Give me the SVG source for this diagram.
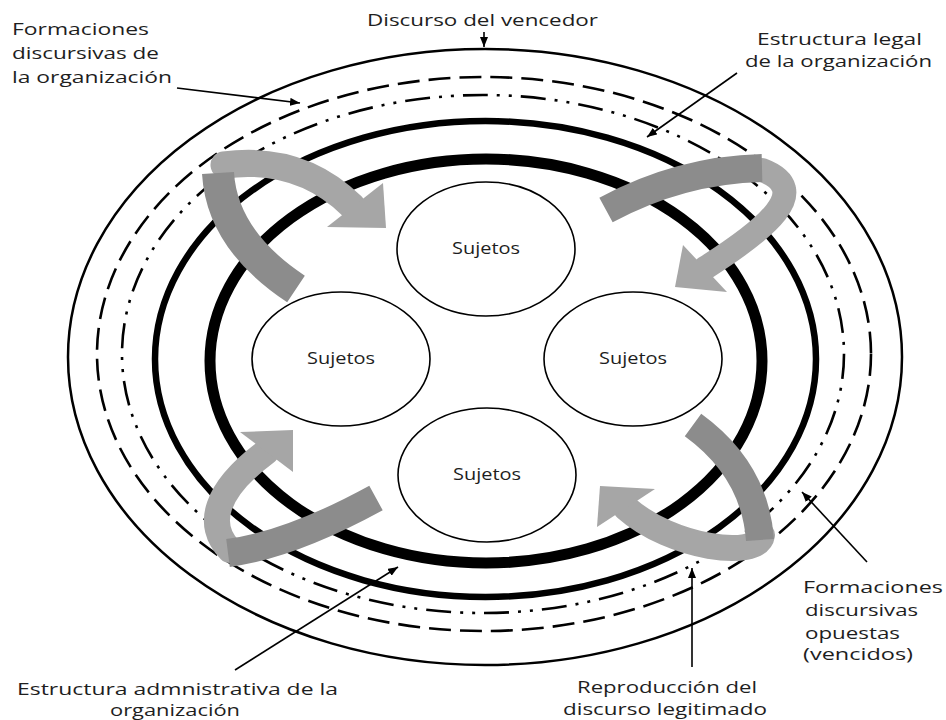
<svg xmlns="http://www.w3.org/2000/svg" width="946" height="720" viewBox="0 0 946 720">
  <style>
    .lbl { font-family: "Open Sans", "Noto Sans", sans-serif; font-size: 16.5px; fill: #1e1e1e; }
    .suj { font-family: "Open Sans", "Noto Sans", sans-serif; font-size: 16.5px; fill: #1e1e1e; text-anchor: middle; }
    .ring { fill: none; stroke: #000; }
    .node { fill: #fff; stroke: #000; stroke-width: 1.6; }
    .dark { fill: none; stroke: #8c8c8c; stroke-linecap: butt; }
    .light { fill: none; stroke: #a6a6a6; stroke-linecap: round; }
    .head { fill: #a6a6a6; }
    .conn { fill: none; stroke: #000; stroke-width: 1.6; }
  </style>
  <defs>
    <marker id="ah" viewBox="0 0 10 8" refX="10" refY="4" markerWidth="10" markerHeight="8" markerUnits="userSpaceOnUse" orient="auto">
      <path d="M0,0 L10,4 L0,8 z" fill="#000"/>
    </marker>
  </defs>
  <rect width="946" height="720" fill="#fff"/>

  <g id="rings">
    <ellipse id="ring-outer" class="ring" cx="485" cy="357" rx="417" ry="308" stroke-width="2.5"/>
    <ellipse id="ring-dashed" class="ring" cx="484" cy="354" rx="387" ry="277" stroke-width="2.6" stroke-dasharray="22 9"/>
    <ellipse id="ring-dashdot" class="ring" cx="483" cy="354" rx="361" ry="259" stroke-width="2.6" stroke-dasharray="25 9 3 9 3 9"/>
    <ellipse id="ring-medium" class="ring" cx="485.5" cy="359" rx="330.5" ry="238" stroke-width="6.5"/>
    <ellipse id="ring-thick" class="ring" cx="486" cy="361" rx="276" ry="202" stroke-width="11"/>
  </g>

  <g id="node-top">
    <ellipse class="node" cx="486" cy="249" rx="89" ry="67"/>
    <text class="suj" x="486" y="254" textLength="68" lengthAdjust="spacingAndGlyphs">Sujetos</text>
  </g>
  <g id="node-left">
    <ellipse class="node" cx="341" cy="359" rx="89" ry="67"/>
    <text class="suj" x="341" y="364" textLength="68" lengthAdjust="spacingAndGlyphs">Sujetos</text>
  </g>
  <g id="node-right">
    <ellipse class="node" cx="633" cy="359" rx="89" ry="67"/>
    <text class="suj" x="633" y="364" textLength="68" lengthAdjust="spacingAndGlyphs">Sujetos</text>
  </g>
  <g id="node-bottom">
    <ellipse class="node" cx="487" cy="475" rx="89" ry="67"/>
    <text class="suj" x="487" y="480" textLength="68" lengthAdjust="spacingAndGlyphs">Sujetos</text>
  </g>

  <g id="curved-arrows">
    <g id="arrow-tl">
      <path class="light" d="M224,165 Q300,155 352,206" stroke-width="27"/>
      <polygon class="head" points="327,227 383,183 386,228"/>
      <path class="dark" d="M296,289 Q222,240 218,173" stroke-width="32"/>
    </g>
    <g id="arrow-tr">
      <path class="light" d="M762,170 C815,190 765,230 705,268" stroke-width="24"/>
      <polygon class="head" points="683,245 675,287 727,292"/>
      <path class="dark" d="M606,210 Q680,170 762,168" stroke-width="28"/>
    </g>
    <g id="arrow-br">
      <path class="light" d="M762,535 C758,560 671,548 626,508" stroke-width="26"/>
      <polygon class="head" points="600,486 655,489 597,527"/>
      <path class="dark" d="M693,425 Q755,470 760,540" stroke-width="28"/>
    </g>
    <g id="arrow-bl">
      <path class="light" d="M230,550 C205,525 215,490 266,452" stroke-width="26"/>
      <polygon class="head" points="293,430 240,432 293,472"/>
      <path class="dark" d="M376,498 Q290,545 228,553" stroke-width="28"/>
    </g>
  </g>

  <g id="connectors">
    <line class="conn" x1="177" y1="88" x2="300" y2="103" marker-end="url(#ah)"/>
    <line class="conn" x1="484" y1="32" x2="484" y2="47" marker-end="url(#ah)"/>
    <line class="conn" x1="737" y1="73" x2="647" y2="137" marker-end="url(#ah)"/>
    <line class="conn" x1="235" y1="670" x2="398" y2="567" marker-end="url(#ah)"/>
    <line class="conn" x1="867" y1="562" x2="802" y2="492" marker-end="url(#ah)"/>
    <line class="conn" x1="692" y1="667" x2="692" y2="568" marker-end="url(#ah)"/>
  </g>

  <g id="labels">
    <g id="label-formaciones-org">
      <text class="lbl" x="12" y="35" textLength="137" lengthAdjust="spacingAndGlyphs">Formaciones</text>
      <text class="lbl" x="12" y="59" textLength="147" lengthAdjust="spacingAndGlyphs">discursivas de</text>
      <text class="lbl" x="12" y="83" textLength="160" lengthAdjust="spacingAndGlyphs">la organización</text>
    </g>
    <g id="label-vencedor">
      <text class="lbl" x="367" y="26" textLength="231" lengthAdjust="spacingAndGlyphs">Discurso del vencedor</text>
    </g>
    <g id="label-legal">
      <text class="lbl" x="757" y="45" textLength="165" lengthAdjust="spacingAndGlyphs">Estructura legal</text>
      <text class="lbl" x="745" y="67" textLength="187" lengthAdjust="spacingAndGlyphs">de la organización</text>
    </g>
    <g id="label-administrativa">
      <text class="lbl" x="17" y="695" textLength="321" lengthAdjust="spacingAndGlyphs">Estructura admnistrativa de la</text>
      <text class="lbl" x="110" y="716" textLength="130" lengthAdjust="spacingAndGlyphs">organización</text>
    </g>
    <g id="label-reproduccion">
      <text class="lbl" x="577" y="693" textLength="180" lengthAdjust="spacingAndGlyphs">Reproducción del</text>
      <text class="lbl" x="563" y="715" textLength="204" lengthAdjust="spacingAndGlyphs">discurso legitimado</text>
    </g>
    <g id="label-opuestas">
      <text class="lbl" x="803" y="593" textLength="140" lengthAdjust="spacingAndGlyphs">Formaciones</text>
      <text class="lbl" x="805" y="616" textLength="113" lengthAdjust="spacingAndGlyphs">discursivas</text>
      <text class="lbl" x="805" y="639" textLength="95" lengthAdjust="spacingAndGlyphs">opuestas</text>
      <text class="lbl" x="803" y="660" textLength="110" lengthAdjust="spacingAndGlyphs">(vencidos)</text>
    </g>
  </g>
</svg>
